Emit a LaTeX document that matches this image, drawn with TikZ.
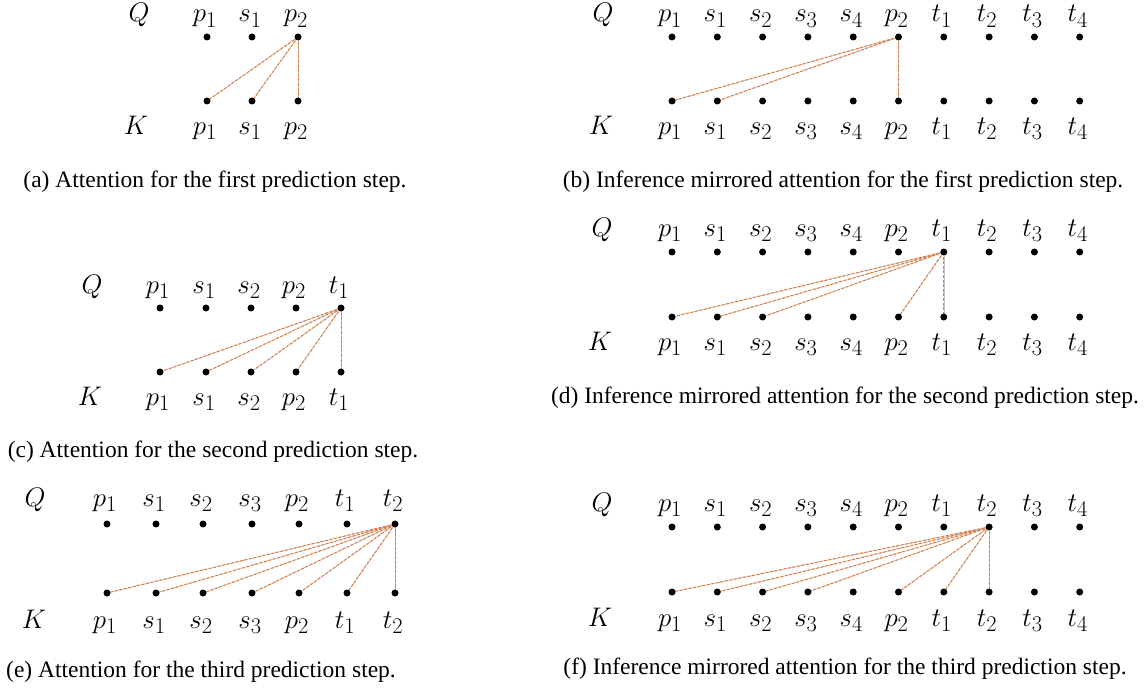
\documentclass[tikz,border=0pt]{standalone}
\usepackage{fontspec}
\setmainfont{Liberation Serif}
\usetikzlibrary{backgrounds}
\definecolor{attorange}{HTML}{E07B3E}
\definecolor{attgray}{HTML}{C4C4C4}
\newcommand\lbl[1]{\scalebox{1.08}{$#1$}}
\tikzset{
  qkdot/.style={circle,fill=black,inner sep=0pt,minimum size=7pt},
  lab/.style={font=\fontsize{24.88}{30}\selectfont,inner sep=0pt,anchor=base},
  attb/.style={draw=attgray,line width=0.6pt},
  att/.style={draw=attorange,line width=1pt,dash pattern=on 3pt off 1.6pt},
  captext/.style={font=\fontsize{23.5}{28}\selectfont,inner sep=0pt},
}
\newcommand\attline[2]{\draw[attb] (#1.center) -- (#2.center); \draw[att] (#1.center) -- (#2.center);}
\begin{document}
\begin{tikzpicture}[x=1pt,y=-1pt]
\useasboundingbox (0,0) rectangle (1147,695);
% ---------- (a)
\node[lab] (aQ) at (139,22) {\lbl{Q}};
\node[lab] (aK) at (136,134.5) {\lbl{K}};
\foreach \x/\t [count=\i] in {207/p_1,252/s_1,298/p_2}{
  \node[qkdot] (aq\i) at (\x,37) {};
  \node[qkdot] (ak\i) at (\x,101) {};
  \node[lab] (aql\i) at (\x-2,22) {\lbl{\t}};
  \node[lab] (akl\i) at (\x-2,134.5) {\lbl{\t}};
}
\begin{pgfonlayer}{background}
\foreach \j in {1,2,3}{\attline{aq3}{ak\j}}
\end{pgfonlayer}
\node[captext] (acap) at (215,182) {(a) Attention for the first prediction step.};
% ---------- (b)
\node[lab] (bQ) at (603,22) {\lbl{Q}};
\node[lab] (bK) at (601,134.5) {\lbl{K}};
\foreach \t [count=\i] in {p_1,s_1,s_2,s_3,s_4,p_2,t_1,t_2,t_3,t_4}{
  \pgfmathsetmacro\x{672+45.3*(\i-1)}
  \node[qkdot] (bq\i) at (\x,37) {};
  \node[qkdot] (bk\i) at (\x,101) {};
  \node[lab] (bql\i) at (\x-2,22) {\lbl{\t}};
  \node[lab] (bkl\i) at (\x-2,134.5) {\lbl{\t}};
}
\begin{pgfonlayer}{background}
\foreach \j in {1,2,6}{\attline{bq6}{bk\j}}
\end{pgfonlayer}
\node[captext] (bcap) at (843,182) {(b) Inference mirrored attention for the first prediction step.};
% ---------- (c)
\node[lab] (cQ) at (92,293.5) {\lbl{Q}};
\node[lab] (cK) at (90,405.5) {\lbl{K}};
\foreach \x/\t [count=\i] in {160/p_1,206/s_1,251/s_2,296/p_2,341/t_1}{
  \node[qkdot] (cq\i) at (\x,308) {};
  \node[qkdot] (ck\i) at (\x,372) {};
  \node[lab] (cql\i) at (\x-2,293.5) {\lbl{\t}};
  \node[lab] (ckl\i) at (\x-2,405.5) {\lbl{\t}};
}
\begin{pgfonlayer}{background}
\foreach \j in {1,...,5}{\attline{cq5}{ck\j}}
\end{pgfonlayer}
\node[captext] (ccap) at (213,452) {(c) Attention for the second prediction step.};
% ---------- (d)
\node[lab] (dQ) at (602,236.5) {\lbl{Q}};
\node[lab] (dK) at (600,350.5) {\lbl{K}};
\foreach \t [count=\i] in {p_1,s_1,s_2,s_3,s_4,p_2,t_1,t_2,t_3,t_4}{
  \pgfmathsetmacro\x{672+45.3*(\i-1)}
  \node[qkdot] (dq\i) at (\x,252) {};
  \node[qkdot] (dk\i) at (\x,317) {};
  \node[lab] (dql\i) at (\x-2,236.5) {\lbl{\t}};
  \node[lab] (dkl\i) at (\x-2,350.5) {\lbl{\t}};
}
\begin{pgfonlayer}{background}
\foreach \j in {1,2,3,6,7}{\attline{dq7}{dk\j}}
\end{pgfonlayer}
\node[captext] (dcap) at (845,398) {(d) Inference mirrored attention for the second prediction step.};
% ---------- (e)
\node[lab] (eQ) at (35,506.5) {\lbl{Q}};
\node[lab] (eK) at (34,628.5) {\lbl{K}};
\foreach \x/\t [count=\i] in {107/p_1,156/s_1,203/s_2,252/s_3,299/p_2,347/t_1,395/t_2}{
  \node[qkdot] (eq\i) at (\x,524) {};
  \node[qkdot] (ek\i) at (\x,593) {};
  \node[lab] (eql\i) at (\x-2,506.5) {\lbl{\t}};
  \node[lab] (ekl\i) at (\x-2,628.5) {\lbl{\t}};
}
\begin{pgfonlayer}{background}
\foreach \j in {1,...,7}{\attline{eq7}{ek\j}}
\end{pgfonlayer}
\node[captext] (ecap) at (201,672) {(e) Attention for the third prediction step.};
% ---------- (f)
\node[lab] (fQ) at (602,511.5) {\lbl{Q}};
\node[lab] (fK) at (600,626.5) {\lbl{K}};
\foreach \t [count=\i] in {p_1,s_1,s_2,s_3,s_4,p_2,t_1,t_2,t_3,t_4}{
  \pgfmathsetmacro\x{672+45.3*(\i-1)}
  \node[qkdot] (fq\i) at (\x,527) {};
  \node[qkdot] (fk\i) at (\x,592) {};
  \node[lab] (fql\i) at (\x-2,511.5) {\lbl{\t}};
  \node[lab] (fkl\i) at (\x-2,626.5) {\lbl{\t}};
}
\begin{pgfonlayer}{background}
\foreach \j in {1,2,3,4,6,7,8}{\attline{fq8}{fk\j}}
\end{pgfonlayer}
\node[captext] (fcap) at (845,669) {(f) Inference mirrored attention for the third prediction step.};
\end{tikzpicture}
\end{document}
